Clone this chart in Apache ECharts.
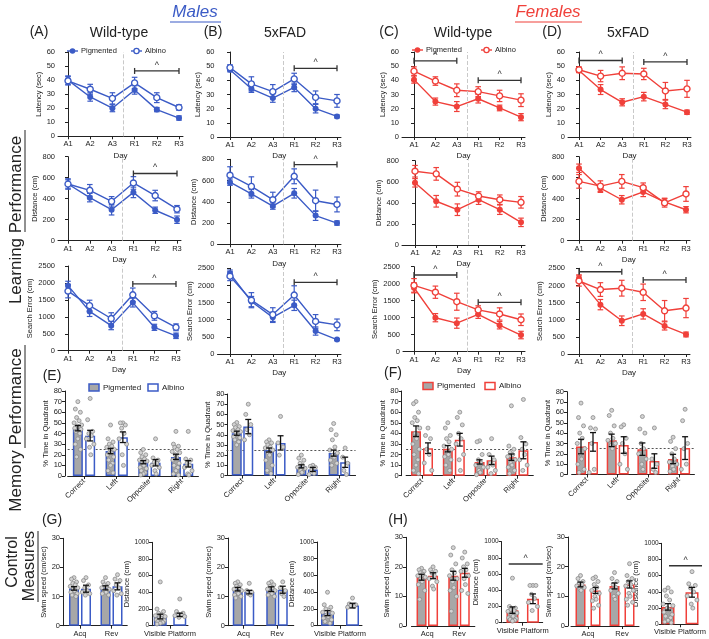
<!DOCTYPE html>
<html>
<head>
<meta charset="utf-8">
<script src="https://cdn.jsdelivr.net/npm/echarts@6/dist/echarts.min.js"></script>
<style>
html, body { margin: 0; padding: 0; background: #fff; }
#main { width: 709px; height: 639px; }
</style>
</head>
<body>
<div id="main"></div>
<script>
// categories
const days = ['A1', 'A2', 'A3', 'R1', 'R2', 'R3'];
const quadrants = ['Correct', 'Left', 'Opposite', 'Right'];
const phases = ['Acq', 'Rev'];
const visible = ['Visible Platform'];

// ---- learning: latency (sec) ----  A = male WT, B = male 5xFAD, C = female WT, D = female 5xFAD
const latA_pig = [40, 28, 20, 33, 19, 13];
const latA_pigErr = [3, 3, 2.5, 3, 1.5, 1.5];
const latA_alb = [39.5, 33.5, 27, 38, 27.5, 20.5];
const latA_albErr = [3, 3.5, 4, 4, 3.5, 2];
const latB_pig = [47.5, 34, 27.5, 35, 20, 14.5];
const latB_pigErr = [1.5, 2.5, 3, 3, 3, 1];
const latB_alb = [49, 37.5, 32, 41, 28, 25.5];
const latB_albErr = [2, 5, 5, 4, 4.5, 4.5];
const latC_pig = [40.5, 25, 21.5, 27, 20.5, 14];
const latC_pigErr = [2.5, 2.5, 3.5, 3, 2, 2.5];
const latC_alb = [46.5, 39.5, 33, 32, 29, 26];
const latC_albErr = [3, 3, 4.5, 3.5, 4, 4.5];
const latD_pig = [47, 33.5, 24.5, 28.5, 23, 17.5];
const latD_pigErr = [1.5, 3.5, 2.5, 3, 3, 1.5];
const latD_alb = [47.5, 43, 45, 44.5, 32.5, 34];
const latD_albErr = [2, 4, 4.5, 4, 6, 6];

// ---- learning: distance (cm) ----
const distA_pig = [540, 410, 295, 460, 290, 200];
const distA_pigErr = [40, 40, 50, 50, 30, 35];
const distA_alb = [540, 480, 375, 550, 430, 300];
const distA_albErr = [50, 55, 45, 60, 50, 35];
const distB_pig = [585, 475, 360, 480, 270, 200];
const distB_pigErr = [30, 40, 30, 45, 45, 20];
const distB_alb = [650, 545, 420, 640, 410, 375];
const distB_albErr = [80, 90, 70, 70, 100, 70];
const distC_pig = [590, 415, 335, 430, 335, 215];
const distC_pigErr = [40, 55, 55, 45, 45, 40];
const distC_alb = [700, 675, 530, 465, 430, 405];
const distC_albErr = [55, 60, 65, 40, 45, 55];
const distD_pig = [690, 500, 390, 465, 370, 295];
const distD_pigErr = [40, 40, 40, 45, 35, 30];
const distD_alb = [565, 520, 565, 505, 360, 445];
const distD_albErr = [65, 50, 65, 45, 40, 70];

// ---- learning: search error (cm) ----
const seA_pig = [1920, 1160, 740, 1420, 690, 440];
const seA_pigErr = [130, 150, 120, 130, 90, 80];
const seA_alb = [1760, 1330, 950, 1650, 1030, 690];
const seA_albErr = [200, 160, 170, 200, 130, 100];
const seB_pig = [2350, 1530, 1070, 1420, 670, 420];
const seB_pigErr = [100, 150, 150, 150, 120, 30];
const seB_alb = [2270, 1570, 1150, 1720, 950, 850];
const seB_albErr = [130, 220, 200, 270, 200, 170];
const seC_pig = [1880, 1000, 840, 1100, 780, 490];
const seC_pigErr = [150, 120, 150, 120, 110, 110];
const seC_alb = [1950, 1750, 1470, 1230, 1110, 940];
const seC_albErr = [200, 180, 250, 120, 180, 170];
const seD_pig = [2200, 1440, 970, 1170, 820, 570];
const seD_pigErr = [110, 150, 140, 150, 120, 70];
const seD_alb = [2130, 1880, 1920, 1800, 1260, 1340];
const seD_albErr = [150, 200, 230, 240, 300, 280];

// significance brackets [fromDay, y, toDay]
const latA_sig = [[3, 46.5, 5]];
const latB_sig = [[3, 48.5, 5]];
const latC_sig = [[0, 53.8, 2], [3, 40, 5]];
const latD_sig = [[0, 54, 2], [3, 53, 5]];
const distA_sig = [[3, 640, 5]];
const distB_sig = [[3, 750, 5]];
const seA_sig = [[3, 1970, 5]];
const seB_sig = [[3, 2090, 5]];
const seC_sig = [[0, 2256, 2], [3, 1453, 5]];
const seD_sig = [[0, 2400, 2], [3, 2160, 5]];

// ---- memory: % time in quadrant ----
const memE1_pig = [45, 23.5, 13, 18];
const memE1_pigErr = [2.5, 2.5, 1.5, 2.5];
const memE1_alb = [38, 36.5, 12.5, 11.5];
const memE1_albErr = [5, 5, 3, 3];
const memE1_pigDots = [
  [70, 63, 60, 55, 52, 50, 48, 47, 46, 45, 44, 42, 40, 35, 30, 25, 18],
  [48, 35, 32, 30, 28, 27, 25, 23, 22, 20, 18, 15, 12, 10, 5, 3],
  [25, 22, 20, 18, 16, 15, 14, 12, 10, 8, 7, 5, 3, 2, 1],
  [42, 30, 28, 27, 25, 23, 22, 20, 18, 15, 12, 10, 8, 5, 2, 1]];
const memE1_albDots = [
  [73, 53, 42, 40, 38, 35, 30, 27, 20],
  [50, 50, 48, 45, 40, 35, 30, 20, 10],
  [35, 17, 15, 13, 12, 10, 8, 5, 2],
  [42, 16, 15, 12, 10, 8, 5, 2, 1]];

const memE2_pig = [41.5, 25, 9, 22];
const memE2_pigErr = [2, 2, 1.5, 3];
const memE2_alb = [48, 32, 6, 13];
const memE2_albErr = [7, 7, 2, 5];
const memE2_pigDots = [
  [52, 50, 48, 47, 45, 44, 43, 42, 40, 38, 37, 35, 33, 30],
  [35, 33, 32, 30, 28, 27, 25, 22, 20, 15, 10, 5, 2],
  [20, 17, 15, 12, 10, 8, 7, 5, 3, 1],
  [51, 45, 40, 35, 28, 25, 22, 20, 18, 15, 12, 10]];
const memE2_albDots = [
  [70, 60, 50, 45, 40, 35],
  [58, 32, 28, 20],
  [10, 9, 8, 5, 2, 1],
  [27, 18, 12, 5, 1]];

const memF1_pig = [42, 25.5, 13, 17.5];
const memF1_pigErr = [5, 3, 2, 3];
const memF1_alb = [26, 34, 14.5, 24];
const memF1_albErr = [5, 6, 4, 8];
const memF1_pigDots = [
  [70, 68, 60, 55, 52, 50, 45, 40, 35, 30, 25, 20, 15, 10, 5, 2],
  [50, 45, 38, 35, 32, 28, 25, 22, 20, 18, 15, 10, 5],
  [33, 32, 20, 15, 12, 10, 8, 5, 3, 1],
  [66, 28, 25, 22, 20, 18, 15, 12, 10, 8, 5, 2]];
const memF1_albDots = [
  [45, 38, 35, 25, 20, 12, 5],
  [60, 55, 48, 40, 35, 30, 20, 15, 5],
  [35, 20, 15, 12, 10, 8, 5, 2],
  [72, 36, 30, 25, 20, 15, 10, 5]];

const memF2_pig = [27, 33, 24.5, 15];
const memF2_pigErr = [7, 6, 6, 4.5];
const memF2_alb = [31.5, 28.5, 13, 25.5];
const memF2_albErr = [9, 8, 7, 11];
const memF2_pigDots = [
  [69, 55, 47, 40, 35, 30, 25, 20, 15, 10, 5, 2],
  [62, 57, 47, 40, 35, 33, 30, 28, 25],
  [56, 44, 40, 30, 25, 20, 15, 10, 5],
  [36, 32, 25, 20, 15, 12, 10, 8, 5, 3]];
const memF2_albDots = [
  [55, 45, 44, 30, 5, 2],
  [48, 46, 35, 30, 20, 10, 5],
  [45, 15, 10, 5, 2],
  [63, 52, 30, 25, 10, 5]];

// ---- control measures ----
const swimG1_pig = [12.8, 13], swimG1_pigErr = [0.6, 0.7];
const swimG1_alb = [12.7, 13.5], swimG1_albErr = [1.2, 1.2];
const swimG1_pigDots = [[16.5, 16, 15, 14.5, 14, 13.5, 13, 12.5, 12, 11.5, 11, 10.5, 10], [16.5, 15, 14.5, 14, 13.5, 13, 12.5, 12, 11.5, 11, 10.5]];
const swimG1_albDots = [[16.5, 15.5, 14, 13, 12, 11.5, 11, 10.5], [17.5, 16, 15.5, 14, 13, 12, 11, 10.5]];
const visG1_pig = [110], visG1_pigErr = [28];
const visG1_alb = [130], visG1_albErr = [20];
const visG1_pigDots = [[525, 200, 170, 150, 130, 120, 110, 100, 90, 70, 60, 50, 40, 30, 20]];
const visG1_albDots = [[320, 170, 150, 140, 130, 120, 110, 100]];

const swimG2_pig = [12.5, 12.5], swimG2_pigErr = [0.6, 0.8];
const swimG2_alb = [11.5, 12.3], swimG2_albErr = [0.6, 1.2];
const swimG2_pigDots = [[15, 14.5, 14, 13.5, 13, 12.5, 12, 11.5, 11, 10.5, 10, 9.5], [15, 14.5, 14, 13.5, 13, 12.5, 12, 11.5, 11, 10.5, 10]];
const swimG2_albDots = [[14.5, 12, 11.5, 11, 10.5], [15, 13, 12, 11, 10]];
const visG2_pig = [150], visG2_pigErr = [30];
const visG2_alb = [240], visG2_albErr = [28];
const visG2_pigDots = [[400, 250, 220, 200, 180, 160, 150, 130, 110, 90, 70, 50, 30]];
const visG2_albDots = [[330, 260, 250, 240, 230, 220]];

const swimH1_pig = [16.5, 17], swimH1_pigErr = [1, 1.5];
const swimH1_alb = [17, 18], swimH1_albErr = [1, 1.5];
const swimH1_pigDots = [[19.5, 19, 18.5, 18, 17.5, 17, 16.5, 16, 15, 14, 12, 9], [26.5, 24, 21, 19, 18, 17, 16, 15, 13, 12, 10, 5]];
const swimH1_albDots = [[20, 19, 18.5, 18, 17, 16, 15, 13.5, 12.5], [25, 23, 21, 20, 19, 18.5, 17, 16, 14, 12, 11]];
const visH1_pig = [155], visH1_pigErr = [40];
const visH1_alb = [295], visH1_albErr = [60];
const visH1_pigDots = [[550, 200, 180, 160, 150, 140, 120, 100, 80, 60, 50, 40, 30, 20]];
const visH1_albDots = [[460, 460, 460, 350, 300, 250, 200, 150]];
const visH1_sig = 725;

const swimH2_pig = [14, 13.5], swimH2_pigErr = [0.8, 1];
const swimH2_alb = [12, 14], swimH2_albErr = [1, 1.2];
const swimH2_pigDots = [[17, 16, 15, 14.5, 14, 13.5, 13, 12.5, 12], [18, 16, 15, 14, 13, 12, 11, 10, 9]];
const swimH2_albDots = [[16.5, 16, 15, 14, 13, 12, 11, 10, 9, 8.5, 7, 6], [21, 17, 16, 15, 14, 13.5, 12, 11, 10, 9, 8, 7]];
const visH2_pig = [215], visH2_pigErr = [40];
const visH2_alb = [395], visH2_albErr = [60];
const visH2_pigDots = [[450, 420, 400, 350, 300, 250, 230, 200, 180, 150, 120, 100, 80, 50, 30, 20]];
const visH2_albDots = [[650, 500, 480, 450, 400, 350, 300, 250, 200]];
const visH2_sig = 723;

// ---- styling ----
const BLUE = '#3b5bc6';
const RED = '#f0403a';
const INK = '#222';
const FONT = 'Liberation Sans, Arial, sans-serif';
const JIT = [0, -0.5, 0.5, -0.25, 0.25, -0.75, 0.75, -0.12, 0.12, -0.62, 0.62, -0.38, 0.38];

const grids = [], xAxes = [], yAxes = [], series = [], graphics = [];

function yAx(gi, max, step, name, gap, offset, labelSize) {
  return {
    gridIndex: gi, type: 'value', min: 0, max: max, interval: step, offset: offset || 0,
    axisLine: {show: true, lineStyle: {color: INK, width: 1}},
    axisTick: {show: true, length: 3, lineStyle: {color: INK}},
    axisLabel: {fontSize: labelSize || 7.5, color: INK, margin: 3, fontFamily: FONT, formatter: v => String(v)},
    splitLine: {show: false},
    name: name, nameLocation: 'middle', nameGap: gap,
    nameTextStyle: {fontSize: 7.5, color: INK, fontFamily: FONT}
  };
}

function errRender(color, cap, lw) {
  return function (params, api) {
    const x = api.value(0), y = api.value(1), e = api.value(2), dx = api.value(3);
    const hi = api.coord([x, y + e]), lo = api.coord([x, y - e]);
    const cx = hi[0] + dx;
    const st = {stroke: color, lineWidth: lw};
    return {type: 'group', children: [
      {type: 'line', shape: {x1: cx, y1: hi[1], x2: cx, y2: lo[1]}, style: st},
      {type: 'line', shape: {x1: cx - cap, y1: hi[1], x2: cx + cap, y2: hi[1]}, style: st},
      {type: 'line', shape: {x1: cx - cap, y1: lo[1], x2: cx + cap, y2: lo[1]}, style: st}
    ]};
  };
}

// data item: [x1, y, x2, dx1, dx2, endTicks]
function sigRender(params, api) {
  const a = api.coord([api.value(0), api.value(1)]);
  const b = api.coord([api.value(2), api.value(1)]);
  const x1 = a[0] + api.value(3), x2 = b[0] + api.value(4), y = a[1];
  const st = {stroke: '#333', lineWidth: 1.3};
  const kids = [{type: 'line', shape: {x1: x1, y1: y, x2: x2, y2: y}, style: st}];
  if (api.value(5)) {
    kids.push({type: 'line', shape: {x1: x1, y1: y - 3, x2: x1, y2: y + 3}, style: st});
    kids.push({type: 'line', shape: {x1: x2, y1: y - 3, x2: x2, y2: y + 3}, style: st});
  }
  kids.push({type: 'text', style: {text: '^', x: (x1 + x2) / 2, y: y - 1, align: 'center', verticalAlign: 'bottom',
    fontSize: 9, fontFamily: FONT, fill: '#333'}});
  return {type: 'group', children: kids};
}

function dotRender(params, api) {
  const p = api.coord([api.value(0), api.value(1)]);
  return {type: 'circle', shape: {cx: p[0] + api.value(2), cy: p[1], r: 2},
    style: {fill: '#d3d3d3', stroke: '#8a8a8a', lineWidth: 0.8}};
}

function linePanel(L, color, yName, yMax, yStep, gap, pig, pigErr, alb, albErr, sigs) {
  const gi = grids.length;
  const sp = (L.r3 - L.a1) / 5;
  const xmin = -(L.a1 - L.left) / sp;
  const xmax = 5 + 4 / sp;
  const ticks = [0, 1, 2, 3, 4, 5];
  grids.push({left: L.left, top: L.top, width: L.r3 + 4 - L.left, height: L.zero - L.top});
  xAxes.push({
    gridIndex: gi, type: 'value', min: xmin, max: xmax,
    axisLine: {show: true, lineStyle: {color: INK, width: 1}},
    axisTick: {show: true, length: 3, customValues: ticks, lineStyle: {color: INK}},
    axisLabel: {customValues: ticks, formatter: v => days[Math.round(v)], fontSize: 7.5, color: INK, margin: 4, fontFamily: FONT},
    splitLine: {show: false},
    name: 'Day', nameLocation: 'middle', nameGap: 15,
    nameTextStyle: {fontSize: 8, color: INK, fontFamily: FONT}
  });
  yAxes.push(yAx(gi, yMax, yStep, yName, gap));
  const common = {xAxisIndex: gi, yAxisIndex: gi, silent: true, animation: false};
  series.push(Object.assign({type: 'custom', z: 2, renderItem: errRender(color, 2.8, 1.2),
    data: pig.map((v, i) => [i, v, pigErr[i], 0])}, common));
  series.push(Object.assign({type: 'custom', z: 2, renderItem: errRender(color, 2.8, 1.2),
    data: alb.map((v, i) => [i, v, albErr[i], 0])}, common));
  series.push(Object.assign({type: 'line', z: 3, data: pig.map((v, i) => [i, v]),
    symbol: 'circle', symbolSize: 6, itemStyle: {color: color}, lineStyle: {color: color, width: 1.4},
    markLine: {silent: true, symbol: 'none', label: {show: false},
      lineStyle: {color: '#c9c9c9', type: 'dashed', width: 1}, data: [{xAxis: 2.5}]}}, common));
  series.push(Object.assign({type: 'line', z: 4, data: alb.map((v, i) => [i, v]),
    symbol: 'circle', symbolSize: 6, itemStyle: {color: '#fff', borderColor: color, borderWidth: 1.4},
    lineStyle: {color: color, width: 1.4}}, common));
  if (sigs) {
    series.push(Object.assign({type: 'custom', z: 5, renderItem: sigRender,
      data: sigs.map(s => [s[0], s[1], s[2], 0, 0, 1])}, common));
  }
}

function barPanel(P, color, cats, yName, yMax, yStep, gap, pig, pigErr, alb, albErr, pigDots, albDots, opt) {
  opt = opt || {};
  const gi = grids.length;
  const left = P.c0 - P.sp / 2;
  grids.push({left: left, top: P.top, width: P.sp * cats.length, height: P.zero - P.top});
  xAxes.push({
    gridIndex: gi, type: 'category', data: cats,
    axisLine: {show: true, lineStyle: {color: INK, width: 1}},
    axisTick: {show: true, alignWithLabel: true, length: 3, lineStyle: {color: INK}},
    axisLabel: {interval: 0, rotate: opt.rotate || 0, fontSize: 7.5, color: INK, margin: 4, fontFamily: FONT},
    splitLine: {show: false}
  });
  yAxes.push(yAx(gi, yMax, yStep, yName, gap, left - P.ax, opt.labelSize));
  const common = {xAxisIndex: gi, yAxisIndex: gi, silent: true, animation: false};
  const pigBar = Object.assign({type: 'bar', z: 2, data: pig, barWidth: P.bw,
    barGap: ((P.ps - P.bw) / P.bw * 100) + '%',
    itemStyle: {color: '#a7a7a7', borderColor: color, borderWidth: 1.5}}, common);
  if (opt.ref != null) {
    pigBar.markLine = {silent: true, symbol: 'none', label: {show: false}, z: 1,
      lineStyle: {color: '#555', type: [2, 2], width: 1}, data: [{yAxis: opt.ref}]};
  }
  series.push(pigBar);
  series.push(Object.assign({type: 'bar', z: 2, data: alb, barWidth: P.bw,
    itemStyle: {color: '#fff', borderColor: color, borderWidth: 1.5}}, common));
  const half = P.ps / 2, spread = P.bw * 0.5;
  const dots = [];
  pigDots.forEach((arr, c) => arr.forEach((v, k) => dots.push([c, v, -half + JIT[k % JIT.length] * spread])));
  albDots.forEach((arr, c) => arr.forEach((v, k) => dots.push([c, v, half + JIT[k % JIT.length] * spread])));
  series.push(Object.assign({type: 'custom', z: 3, renderItem: dotRender, data: dots}, common));
  const errs = pig.map((v, c) => [c, v, pigErr[c], -half]).concat(alb.map((v, c) => [c, v, albErr[c], half]));
  series.push(Object.assign({type: 'custom', z: 4, renderItem: errRender('#111', 3, 1.3), data: errs}, common));
  if (opt.sig != null) {
    series.push(Object.assign({type: 'custom', z: 5, renderItem: sigRender,
      data: [[0, opt.sig, 0, opt.sx1, opt.sx2, 0]]}, common));
  }
}

// ---- learning rows ----
const LAT = [
  {left: 58, top: 52, zero: 136.3, a1: 68, r3: 179},
  {left: 217.5, top: 52, zero: 137, a1: 230, r3: 337},
  {left: 402, top: 52, zero: 137, a1: 414, r3: 521},
  {left: 568, top: 52, zero: 137, a1: 579, r3: 687}];
const DIST = [
  {left: 58, top: 156.7, zero: 240.7, a1: 68, r3: 177},
  {left: 217.5, top: 159.3, zero: 244.3, a1: 230, r3: 337},
  {left: 402, top: 160.7, zero: 245, a1: 415, r3: 521},
  {left: 567.5, top: 156.7, zero: 240.7, a1: 579, r3: 686}];
const SE = [
  {left: 58, top: 266, zero: 350.7, a1: 68, r3: 176},
  {left: 217.5, top: 268.3, zero: 354, a1: 230, r3: 337},
  {left: 403, top: 266.7, zero: 351.7, a1: 414, r3: 521},
  {left: 568, top: 268.3, zero: 354, a1: 579, r3: 686}];

linePanel(LAT[0], BLUE, 'Latency (sec)', 60, 10, 12, latA_pig, latA_pigErr, latA_alb, latA_albErr, latA_sig);
linePanel(LAT[1], BLUE, 'Latency (sec)', 60, 10, 12, latB_pig, latB_pigErr, latB_alb, latB_albErr, latB_sig);
linePanel(LAT[2], RED, 'Latency (sec)', 60, 10, 12, latC_pig, latC_pigErr, latC_alb, latC_albErr, latC_sig);
linePanel(LAT[3], RED, 'Latency (sec)', 60, 10, 12, latD_pig, latD_pigErr, latD_alb, latD_albErr, latD_sig);
linePanel(DIST[0], BLUE, 'Distance (cm)', 800, 200, 17, distA_pig, distA_pigErr, distA_alb, distA_albErr, distA_sig);
linePanel(DIST[1], BLUE, 'Distance (cm)', 800, 200, 17, distB_pig, distB_pigErr, distB_alb, distB_albErr, distB_sig);
linePanel(DIST[2], RED, 'Distance (cm)', 800, 200, 17, distC_pig, distC_pigErr, distC_alb, distC_albErr, null);
linePanel(DIST[3], RED, 'Distance (cm)', 800, 200, 17, distD_pig, distD_pigErr, distD_alb, distD_albErr, null);
linePanel(SE[0], BLUE, 'Search Error (cm)', 2500, 500, 20, seA_pig, seA_pigErr, seA_alb, seA_albErr, seA_sig);
linePanel(SE[1], BLUE, 'Search Error (cm)', 2500, 500, 20, seB_pig, seB_pigErr, seB_alb, seB_albErr, seB_sig);
linePanel(SE[2], RED, 'Search Error (cm)', 2500, 500, 20, seC_pig, seC_pigErr, seC_alb, seC_albErr, seC_sig);
linePanel(SE[3], RED, 'Search Error (cm)', 2500, 500, 20, seD_pig, seD_pigErr, seD_alb, seD_albErr, seD_sig);

// ---- memory row ----
const TQ = '% Time in Quadrant';
barPanel({ax: 65, c0: 84, sp: 32.7, top: 391, zero: 476, bw: 10, ps: 12.3}, BLUE, quadrants, TQ, 80, 10, 12,
  memE1_pig, memE1_pigErr, memE1_alb, memE1_albErr, memE1_pigDots, memE1_albDots, {rotate: 45, ref: 25});
barPanel({ax: 227.5, c0: 242.5, sp: 32.3, top: 394, zero: 475.5, bw: 10, ps: 11.5}, BLUE, quadrants, TQ, 80, 10, 12,
  memE2_pig, memE2_pigErr, memE2_alb, memE2_albErr, memE2_pigDots, memE2_albDots, {rotate: 45, ref: 25});
barPanel({ax: 401.7, c0: 422, sp: 31.8, top: 391, zero: 475.7, bw: 10, ps: 12}, RED, quadrants, TQ, 80, 10, 12,
  memF1_pig, memF1_pigErr, memF1_alb, memF1_albErr, memF1_pigDots, memF1_albDots, {rotate: 45, ref: 25});
barPanel({ax: 567, c0: 587, sp: 30.7, top: 391.7, zero: 474.5, bw: 10, ps: 12}, RED, quadrants, TQ, 80, 10, 12,
  memF2_pig, memF2_pigErr, memF2_alb, memF2_albErr, memF2_pigDots, memF2_albDots, {rotate: 45, ref: 25});

// ---- control row ----
const SW = 'Swim speed (cm/sec)', DC = 'Distance (cm)';
barPanel({ax: 63, c0: 80, sp: 31.5, top: 538.3, zero: 625.7, bw: 10, ps: 12}, BLUE, phases, SW, 30, 10, 12,
  swimG1_pig, swimG1_pigErr, swimG1_alb, swimG1_albErr, swimG1_pigDots, swimG1_albDots);
barPanel({ax: 152, c0: 170, sp: 36, top: 542.3, zero: 625.7, bw: 13, ps: 19.5}, BLUE, visible, DC, 1000, 200, 20,
  visG1_pig, visG1_pigErr, visG1_alb, visG1_albErr, visG1_pigDots, visG1_albDots, {labelSize: 6.5});
barPanel({ax: 228, c0: 243.5, sp: 33.5, top: 538, zero: 625.7, bw: 10, ps: 11.5}, BLUE, phases, SW, 30, 10, 12,
  swimG2_pig, swimG2_pigErr, swimG2_alb, swimG2_albErr, swimG2_pigDots, swimG2_albDots);
barPanel({ax: 317, c0: 340, sp: 44, top: 542, zero: 625.7, bw: 13, ps: 25}, BLUE, visible, DC, 1000, 200, 20,
  visG2_pig, visG2_pigErr, visG2_alb, visG2_albErr, visG2_pigDots, visG2_albDots, {labelSize: 6.5});
barPanel({ax: 406, c0: 427.3, sp: 31.7, top: 537.3, zero: 626, bw: 10, ps: 11.5}, RED, phases, SW, 30, 10, 12,
  swimH1_pig, swimH1_pigErr, swimH1_alb, swimH1_albErr, swimH1_pigDots, swimH1_albDots);
barPanel({ax: 501.7, c0: 522.7, sp: 40, top: 541.7, zero: 622.7, bw: 12, ps: 20.5}, RED, visible, DC, 1000, 200, 19,
  visH1_pig, visH1_pigErr, visH1_alb, visH1_albErr, visH1_pigDots, visH1_albDots, {labelSize: 6.5, sig: visH1_sig, sx1: -14, sx2: 20});
barPanel({ax: 568, c0: 588, sp: 34, top: 537, zero: 626, bw: 10, ps: 15}, RED, phases, SW, 30, 10, 12,
  swimH2_pig, swimH2_pigErr, swimH2_alb, swimH2_albErr, swimH2_pigDots, swimH2_albDots);
barPanel({ax: 661.7, c0: 683, sp: 42, top: 543.3, zero: 624.3, bw: 13, ps: 24}, RED, visible, DC, 1000, 200, 19,
  visH2_pig, visH2_pigErr, visH2_alb, visH2_albErr, visH2_pigDots, visH2_albDots, {labelSize: 6.5, sig: visH2_sig, sx1: -11, sx2: 22});

// ---- titles, legends, row labels ----
function text(x, y, s, size, extra) {
  return {type: 'text', x: x, y: y, rotation: (extra && extra.rotation) || 0, silent: true,
    style: Object.assign({text: s, fontSize: size, fontFamily: FONT, fill: INK, align: 'center', verticalAlign: 'middle'},
      extra && extra.style)};
}
function hline(x1, x2, y, color, w) {
  return {type: 'line', silent: true, shape: {x1: x1, y1: y, x2: x2, y2: y}, style: {stroke: color, lineWidth: w || 1}};
}
function vline(x, y1, y2, color, w) {
  return {type: 'line', silent: true, shape: {x1: x, y1: y1, x2: x, y2: y2}, style: {stroke: color, lineWidth: w || 1}};
}

graphics.push(text(195, 12, 'Males', 17, {style: {fill: BLUE, fontStyle: 'italic'}}));
graphics.push(hline(170, 221, 22, BLUE, 1.2));
graphics.push(text(548, 12, 'Females', 17, {style: {fill: RED, fontStyle: 'italic'}}));
graphics.push(hline(515, 582, 22, RED, 1.2));

[['(A)', 39, 'Wild-type', 119], ['(B)', 213, '5xFAD', 285], ['(C)', 389, 'Wild-type', 463], ['(D)', 552, '5xFAD', 628]]
  .forEach(t => {
    graphics.push(text(t[1], 32, t[0], 14));
    graphics.push(text(t[3], 33, t[2], 14));
  });
graphics.push(text(52, 376, '(E)', 14));
graphics.push(text(393, 373, '(F)', 14));
graphics.push(text(52, 520, '(G)', 14));
graphics.push(text(398, 520, '(H)', 14));

// line legends
function lineLegend(x0, x1, color, y) {
  graphics.push(hline(x0, x0 + 11, y, color, 1.4));
  graphics.push({type: 'circle', silent: true, shape: {cx: x0 + 5.5, cy: y, r: 2.8}, style: {fill: color}});
  graphics.push(text(x0 + 14, y, 'Pigmented', 7.5, {style: {align: 'left'}}));
  graphics.push(hline(x1, x1 + 11, y, color, 1.4));
  graphics.push({type: 'circle', silent: true, shape: {cx: x1 + 5.5, cy: y, r: 2.6}, style: {fill: '#fff', stroke: color, lineWidth: 1.3}});
  graphics.push(text(x1 + 14, y, 'Albino', 7.5, {style: {align: 'left'}}));
}
lineLegend(67, 131, BLUE, 51);
lineLegend(412, 481, RED, 50);

// bar legends
function barLegend(x0, x1, color, y) {
  graphics.push({type: 'rect', silent: true, shape: {x: x0, y: y - 3.5, width: 10, height: 7},
    style: {fill: '#a7a7a7', stroke: color, lineWidth: 1.5}});
  graphics.push(text(x0 + 14, y, 'Pigmented', 8, {style: {align: 'left'}}));
  graphics.push({type: 'rect', silent: true, shape: {x: x1, y: y - 3.5, width: 10, height: 7},
    style: {fill: '#fff', stroke: color, lineWidth: 1.5}});
  graphics.push(text(x1 + 14, y, 'Albino', 8, {style: {align: 'left'}}));
}
barLegend(89, 148, BLUE, 387.5);
barLegend(423, 485, RED, 386);

// row labels (vertical)
const ROT = Math.PI / 2;
graphics.push(text(16, 220, 'Learning Performance', 17, {rotation: ROT}));
graphics.push(vline(25, 130, 232, INK, 1));
graphics.push(text(16, 430, 'Memory Performance', 17, {rotation: ROT}));
graphics.push(vline(25, 345, 448, INK, 1));
graphics.push(text(13, 562, 'Control', 16, {rotation: ROT}));
graphics.push(text(30, 566, 'Measures', 16, {rotation: ROT}));
graphics.push(vline(38, 531, 602, INK, 1));

const chart = echarts.init(document.getElementById('main'), null, {renderer: 'canvas'});
chart.setOption({
  animation: false,
  backgroundColor: '#fff',
  grid: grids,
  xAxis: xAxes,
  yAxis: yAxes,
  series: series,
  graphic: graphics
});
</script>
</body>
</html>
